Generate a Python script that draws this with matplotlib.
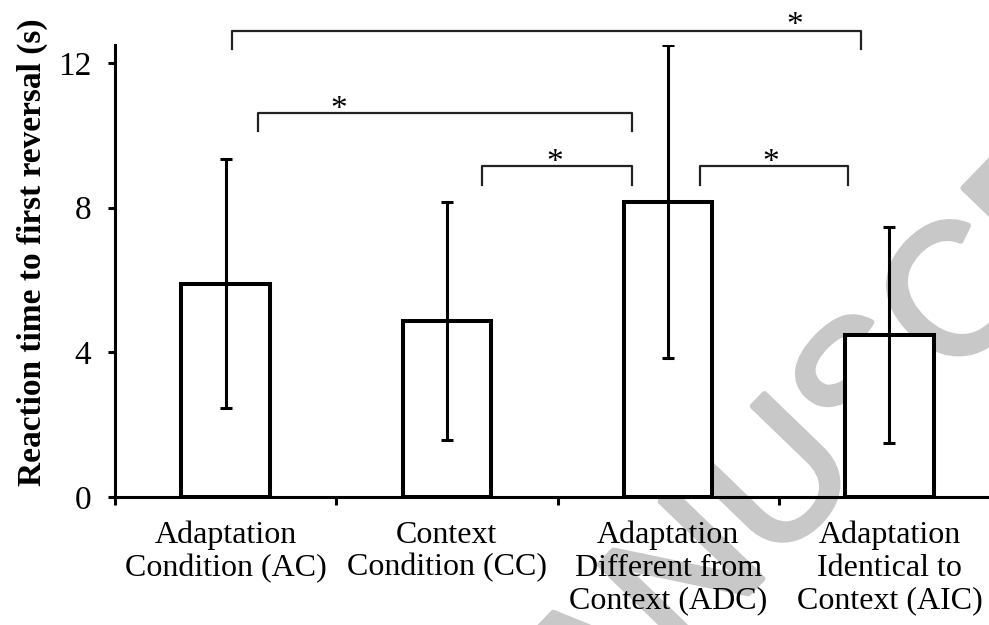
import matplotlib.pyplot as plt
import matplotlib.patheffects as pe

categories = ['Adaptation\nCondition (AC)', 'Context\nCondition (CC)',
              'Adaptation\nDifferent from\nContext (ADC)', 'Adaptation\nIdentical to\nContext (AIC)']
means = [5.9, 4.87, 8.17, 4.48]
errors = [3.45, 3.3, 4.32, 3.0]
yticks = [0, 4, 8, 12]

# significance brackets: (x start, x end, y, drop, star x, star y)
brackets = [
    (0.03, 2.87, 12.9, 0.5, 2.57, 13.23),
    (0.145, 1.837, 10.61, 0.5, 0.51, 10.9),
    (1.158, 1.837, 9.14, 0.52, 1.489, 9.45),
    (2.145, 2.814, 9.14, 0.52, 2.462, 9.45),
]

plt.rcParams['font.family'] = ['Liberation Serif', 'DejaVu Serif']

fig = plt.figure(figsize=(9.89, 6.25), dpi=100)
ax = fig.add_axes([0.1163, 0.2048, 0.8837, 0.7232])

# watermark
fig.text(0.4934, -0.381, 'MANUSCRIPT', fontsize=133, color='#c8c8c8',
         family='Liberation Sans', rotation=46, rotation_mode='anchor',
         ha='left', va='baseline', zorder=0,
         path_effects=[pe.withStroke(linewidth=4, foreground='#c8c8c8')])

xs = list(range(len(means)))
ax.bar(xs, means, width=0.4, facecolor='white', edgecolor='black', linewidth=2.9, zorder=2)
ax.errorbar(xs, means, yerr=errors, fmt='none', ecolor='black', elinewidth=2.2,
            capsize=4.3, capthick=2.2, zorder=3)

for x0, x1, y, d, sx, sy in brackets:
    ax.plot([x0, x0, x1, x1], [y - d, y, y, y - d], color='#222222', lw=1.6,
            clip_on=False, zorder=3)
    ax.text(sx, sy - 0.43, '*', ha='center', va='baseline', fontsize=24, clip_on=False)

ax.set_xlim(-0.5, 3.45)
ax.set_ylim(0, 12.5)
ax.set_yticks(yticks)
ax.set_yticklabels([str(t) for t in yticks], fontsize=24)
ax.set_xticks(xs)
ax.set_xticklabels(categories, fontsize=23, linespacing=1.17, va='top')
ax.set_xticks([-0.5, 0.5, 1.5, 2.5], minor=True)
ax.tick_params(axis='x', which='major', length=0, pad=17)
ax.tick_params(axis='x', which='minor', length=6, width=2.2, direction='out')
ax.tick_params(axis='y', length=5, width=2.2, direction='out', pad=12)

for s in ['top', 'right']:
    ax.spines[s].set_visible(False)
for s in ['left', 'bottom']:
    ax.spines[s].set_linewidth(2.2)

ax.set_ylabel('Reaction time to first reversal (s)', fontsize=24, fontweight='bold')
ax.yaxis.set_label_coords(-0.077, 0.542)
ax.set_facecolor('none')
ax.set_zorder(1)

fig.savefig('out.png', dpi=100)
